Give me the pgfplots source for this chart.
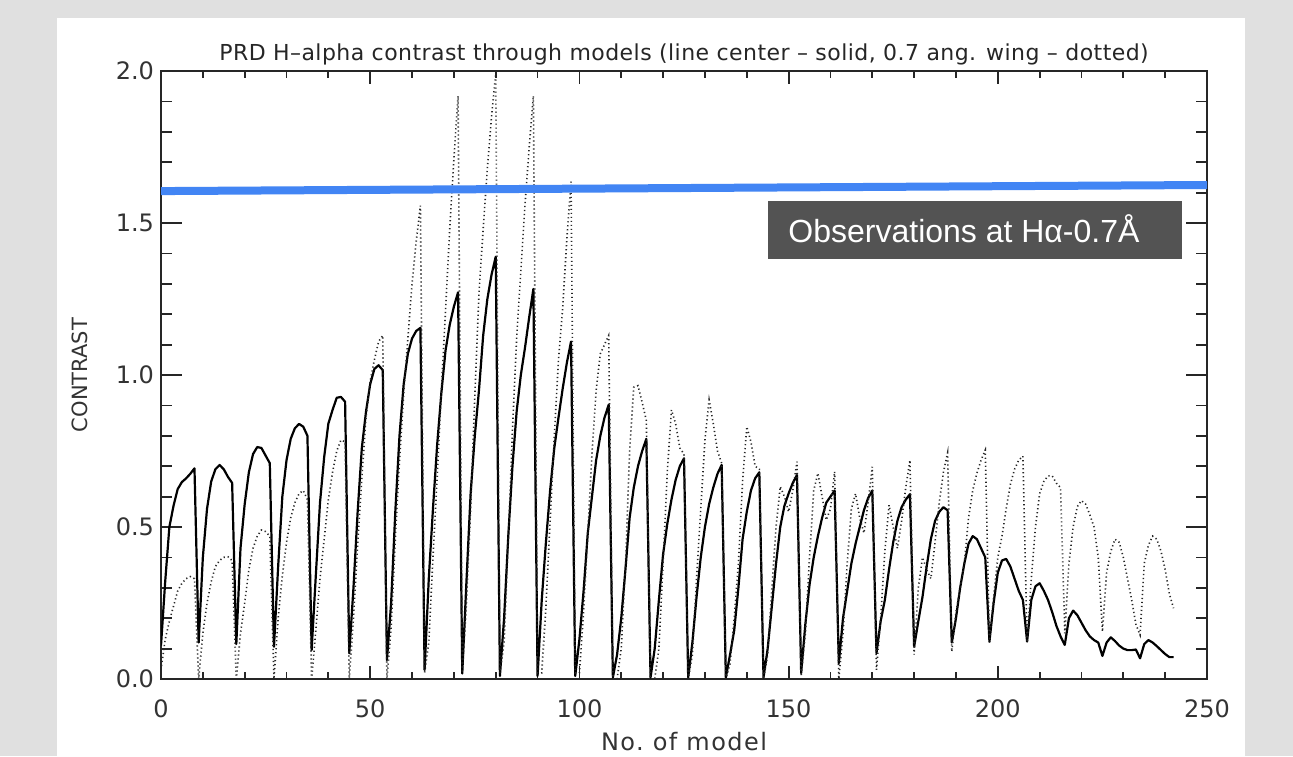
\documentclass[border=0pt]{standalone}
\usepackage{pgfplots}
\pgfplotsset{compat=1.18}
\usepackage{pgfplotstable}
\usepackage{fontspec}
\setmainfont{DejaVu Sans}
\newfontfamily\arialfont{Liberation Sans}
\newfontfamily\titlefont[LetterSpace=2]{DejaVu Sans}
\newfontfamily\labelfont[LetterSpace=6]{DejaVu Sans}
\definecolor{bggray}{RGB}{224,224,224}
\definecolor{obsblue}{RGB}{66,133,244}
\definecolor{boxgray}{RGB}{83,83,83}

\pgfplotstableread{
m v
0 0.11
1 0.32
2 0.50
3 0.57
4 0.625
5 0.648
6 0.66
7 0.675
8 0.693
9 0.12
10 0.40
11 0.56
12 0.65
13 0.69
14 0.704
15 0.69
16 0.665
17 0.645
18 0.115
19 0.43
20 0.575
21 0.68
22 0.74
23 0.763
24 0.76
25 0.735
26 0.71
27 0.106
28 0.37
29 0.60
30 0.72
31 0.79
32 0.825
33 0.839
34 0.83
35 0.80
36 0.095
37 0.34
38 0.58
39 0.73
40 0.84
41 0.885
42 0.925
43 0.928
44 0.912
45 0.085
46 0.30
47 0.55
48 0.76
49 0.88
50 0.97
51 1.02
52 1.032
53 1.016
54 0.062
55 0.25
56 0.55
57 0.80
58 0.97
59 1.07
60 1.12
61 1.145
62 1.155
63 0.03
64 0.33
65 0.56
66 0.77
67 0.94
68 1.08
69 1.165
70 1.225
71 1.272
72 0.018
73 0.32
74 0.61
75 0.80
76 0.95
77 1.13
78 1.25
79 1.33
80 1.389
81 0.01
82 0.20
83 0.47
84 0.70
85 0.88
86 1.00
87 1.09
88 1.19
89 1.283
90 0.01
91 0.26
92 0.45
93 0.62
94 0.76
95 0.86
96 0.955
97 1.04
98 1.11
99 0.01
100 0.13
101 0.29
102 0.48
103 0.60
104 0.72
105 0.80
106 0.86
107 0.902
108 0.005
109 0.08
110 0.20
111 0.36
112 0.53
113 0.63
114 0.70
115 0.75
116 0.79
117 0.005
118 0.10
119 0.26
120 0.41
121 0.51
122 0.59
123 0.655
124 0.70
125 0.726
126 0.005
127 0.12
128 0.27
129 0.40
130 0.50
131 0.575
132 0.63
133 0.675
134 0.704
135 0.005
136 0.08
137 0.16
138 0.30
139 0.46
140 0.55
141 0.62
142 0.66
143 0.68
144 0.005
145 0.10
146 0.24
147 0.38
148 0.50
149 0.57
150 0.61
151 0.645
152 0.671
153 0.02
154 0.18
155 0.31
156 0.40
157 0.47
158 0.53
159 0.58
160 0.60
161 0.62
162 0.052
163 0.20
164 0.29
165 0.38
166 0.445
167 0.50
168 0.555
169 0.595
170 0.62
171 0.085
172 0.19
173 0.26
174 0.36
175 0.45
176 0.52
177 0.565
178 0.59
179 0.608
180 0.106
181 0.19
182 0.27
183 0.37
184 0.46
185 0.52
186 0.55
187 0.565
188 0.555
189 0.12
190 0.20
191 0.30
192 0.38
193 0.445
194 0.47
195 0.46
196 0.43
197 0.40
198 0.123
199 0.25
200 0.35
201 0.39
202 0.395
203 0.37
204 0.33
205 0.29
206 0.26
207 0.123
208 0.26
209 0.305
210 0.315
211 0.29
212 0.26
213 0.22
214 0.175
215 0.14
216 0.112
217 0.20
218 0.225
219 0.21
220 0.185
221 0.16
222 0.14
223 0.128
224 0.12
225 0.076
226 0.12
227 0.137
228 0.125
229 0.11
230 0.10
231 0.095
232 0.095
233 0.097
234 0.068
235 0.115
236 0.128
237 0.12
238 0.108
239 0.095
240 0.082
241 0.072
242 0.072
}\solidtab

\pgfplotstableread{
m v
0 0.03
1 0.13
2 0.19
3 0.24
4 0.29
5 0.315
6 0.33
7 0.337
8 0.33
9 0.0
10 0.15
11 0.25
12 0.32
13 0.37
14 0.39
15 0.40
16 0.402
17 0.39
18 0.0
19 0.15
20 0.25
21 0.36
22 0.43
23 0.47
24 0.49
25 0.485
26 0.47
27 0.0
28 0.20
29 0.34
30 0.45
31 0.53
32 0.58
33 0.61
34 0.62
35 0.59
36 0.0
37 0.16
38 0.33
39 0.46
40 0.59
41 0.68
42 0.75
43 0.786
44 0.78
45 0.0
46 0.20
47 0.44
48 0.66
49 0.86
50 0.98
51 1.05
52 1.11
53 1.13
54 0.0
55 0.17
56 0.46
57 0.72
58 0.94
59 1.12
60 1.30
61 1.44
62 1.557
63 0.02
64 0.12
65 0.40
66 0.66
67 0.95
68 1.21
69 1.48
70 1.71
71 1.918
72 0.02
73 0.25
74 0.56
75 0.93
76 1.27
77 1.48
78 1.68
79 1.85
80 1.99
81 0.02
82 0.12
83 0.46
84 0.82
85 1.12
86 1.34
87 1.56
88 1.75
89 1.918
90 0.02
91 0.02
92 0.24
93 0.52
94 0.80
95 1.05
96 1.22
97 1.447
98 1.636
99 0.02
100 0.02
101 0.22
102 0.48
103 0.74
104 0.95
105 1.07
106 1.10
107 1.13
108 0.0
109 0.0
110 0.10
111 0.37
112 0.75
113 0.96
114 0.965
115 0.91
116 0.85
117 0.0
118 0.0
119 0.10
120 0.38
121 0.68
122 0.885
123 0.84
124 0.76
125 0.74
126 0.0
127 0.08
128 0.33
129 0.56
130 0.786
131 0.918
132 0.84
133 0.75
134 0.71
135 0.0
136 0.05
137 0.20
138 0.38
139 0.65
140 0.83
141 0.78
142 0.70
143 0.69
144 0.0
145 0.08
146 0.30
147 0.50
148 0.633
149 0.60
150 0.55
151 0.62
152 0.715
153 0.01
154 0.15
155 0.40
156 0.62
157 0.677
158 0.60
159 0.523
160 0.56
161 0.682
162 0.0
163 0.15
164 0.38
165 0.56
166 0.61
167 0.53
168 0.48
169 0.58
170 0.698
171 0.03
172 0.20
173 0.42
174 0.572
175 0.50
176 0.43
177 0.52
178 0.63
179 0.72
180 0.08
181 0.30
182 0.40
183 0.36
184 0.33
185 0.45
186 0.58
187 0.68
188 0.744
189 0.09
190 0.22
191 0.30
192 0.38
193 0.53
194 0.62
195 0.677
196 0.72
197 0.753
198 0.12
199 0.27
200 0.40
201 0.47
202 0.56
203 0.64
204 0.69
205 0.72
206 0.733
207 0.12
208 0.33
209 0.50
210 0.61
211 0.65
212 0.668
213 0.668
214 0.644
215 0.63
216 0.15
217 0.38
218 0.50
219 0.567
220 0.587
221 0.575
222 0.54
223 0.50
224 0.40
225 0.156
226 0.35
227 0.42
228 0.46
229 0.45
230 0.40
231 0.33
232 0.26
233 0.18
234 0.145
235 0.38
236 0.44
237 0.47
238 0.46
239 0.42
240 0.36
241 0.28
242 0.233
}\dottedtab

\begin{document}
\begin{tikzpicture}
\useasboundingbox (0,0) rectangle (646.5pt,378pt);
\fill[bggray] (0,0) rectangle (646.5pt,378pt);
\fill[white] (28.5pt,0) rectangle (622.5pt,369pt);
\begin{axis}[
  at={(80.5pt,38.5pt)}, anchor=south west,
  scale only axis, width=523pt, height=304pt,
  xmin=0, xmax=250, ymin=0, ymax=2,
  xtick={0,50,...,250}, ytick={0,0.5,...,2.0},
  minor x tick num=4, minor y tick num=4,
  tick align=inside,
  axis line style={line width=0.9pt, black!85},
  every tick/.style={black!85, line width=0.9pt},
  every x tick/.append style={/pgfplots/major tick length=6.3pt,/pgfplots/minor tick length=3.3pt},
  every y tick/.append style={/pgfplots/major tick length=10.5pt,/pgfplots/minor tick length=5.5pt},
  /pgf/number format/assume math mode=true,
  xticklabel style={font=\fontsize{12}{14}\selectfont, text=black!80, yshift=-7pt},
  yticklabel style={font=\fontsize{12}{14}\selectfont, text=black!80, /pgf/number format/.cd, fixed, fixed zerofill, precision=1},
  xlabel={No.\ of model}, ylabel={CONTRAST},
  every axis x label/.style={at={(axis description cs:0.5,-0.1036)}, anchor=center, text=black!80, font=\labelfont\fontsize{12}{14}\selectfont},
  every axis y label/.style={at={(axis description cs:-0.0774,0.5)}, anchor=center, rotate=90, text=black!80, font=\fontsize{10.5}{13}\selectfont},
  title={PRD H–alpha contrast through models (line center – solid, 0.7 ang. wing – dotted)},
  every axis title/.style={at={(axis description cs:0.5,1.027)}, anchor=center, text=black!85, font=\titlefont\fontsize{11}{13}\selectfont},
]
\addplot[black, line width=1.1pt, line join=round] table[x=m,y=v] {\solidtab};
\addplot[black!85, line width=0.8pt, dash pattern=on 0.6pt off 1.4pt] table[x=m,y=v] {\dottedtab};
\addplot[obsblue, line width=4pt] coordinates {(0,1.605) (250,1.625)};
\fill[boxgray] (axis cs:145.08,1.3816) rectangle (axis cs:244.03,1.5724);
\node[anchor=base west, text=white, font=\arialfont\fontsize{16}{18}\selectfont, inner sep=0pt] at (axis cs:149.86,1.4375) {Observations at Hα-0.7Å};
\end{axis}
\end{tikzpicture}
\end{document}
